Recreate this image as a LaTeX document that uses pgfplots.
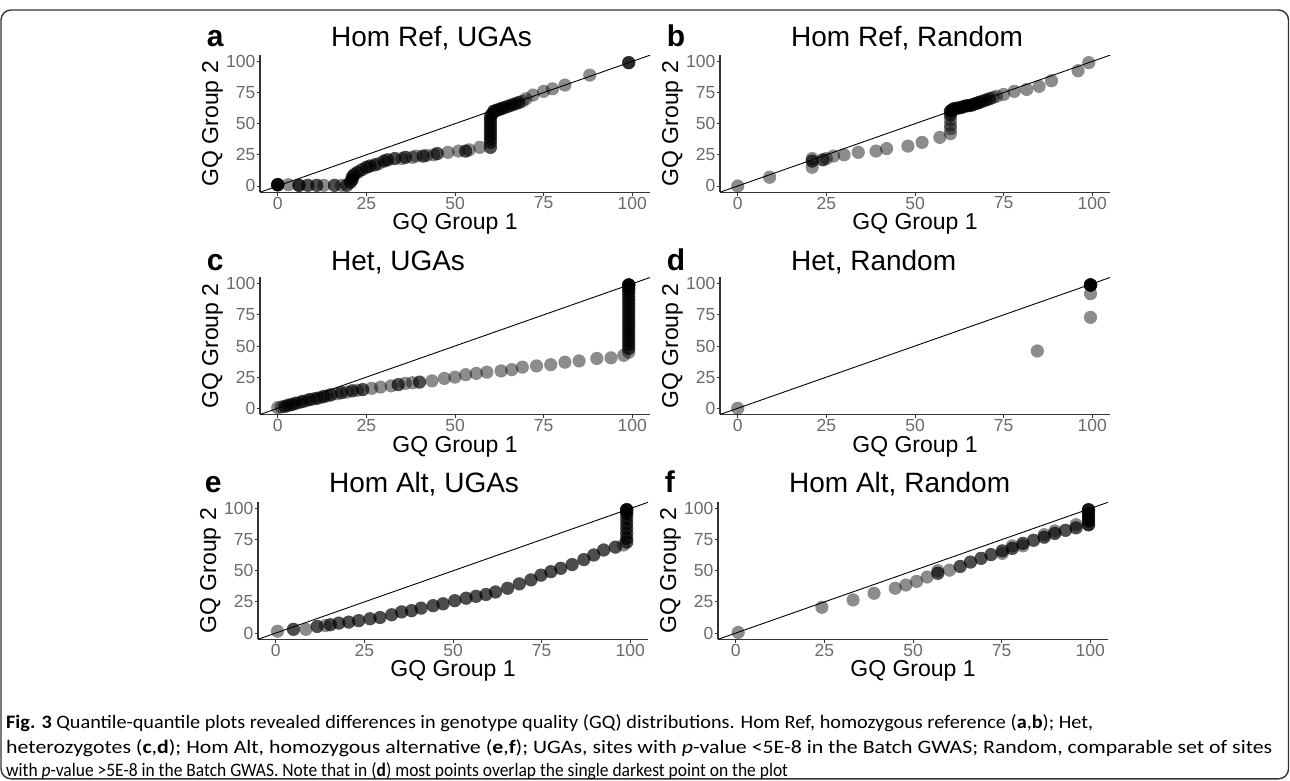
\documentclass[border=0pt]{standalone}
\usepackage{fontspec}
\setmainfont{Liberation Sans}
\newfontfamily\capfont{Carlito}
\usepackage{graphicx}
\usepackage{pgfplots}
\pgfplotsset{compat=1.18}
\definecolor{tickgray}{HTML}{6A6A6A}
\definecolor{axgray}{HTML}{333333}
\pgfplotsset{
  qq/.style={
    scale only axis, width=390pt, height=137pt,
    xmin=-5, xmax=105, ymin=-5, ymax=105,
    axis x line*=bottom, axis y line*=left,
    axis line style={-, axgray, line width=1.1pt},
    xtick={0,25,50,75,100}, ytick={0,25,50,75,100},
    xtick pos=bottom, ytick pos=left,
    tick align=outside, major tick length=3.5pt,
    every tick/.style={axgray, line width=0.9pt},
    tick label style={tickgray, font=\fontsize{17.5}{17.5}\selectfont, inner sep=1pt},
    /pgf/number format/assume math mode=true,
    xlabel={GQ Group 1}, ylabel={GQ Group 2},
    label style={font=\fontsize{23}{23}\selectfont, black},
    xlabel style={at={(axis description cs:0.5,-0.274)}, anchor=base},
    ylabel style={at={(axis description cs:-0.1077,0.5)}, anchor=base},
    clip mode=individual,
  },
  pts/.style={only marks, mark=*, mark size=6.6pt,
    mark options={fill=black, fill opacity=0.45, draw opacity=0}},
  diag/.style={black, line width=0.9pt, no marks},
}
\newcommand{\paneltitle}[3]{%
  \node[anchor=base west, inner sep=0, font=\fontsize{28}{28}\selectfont] at (axis description cs:0.182,#1) {#2};%
  \node[anchor=base west, inner sep=0, font=\fontsize{30}{30}\selectfont\bfseries] at (axis description cs:-0.137,#1) {#3};%
}
\begin{document}
\begin{tikzpicture}
\useasboundingbox (0pt,0pt) rectangle (1290pt,780pt);
\draw[axgray, line width=1.4pt, rounded corners=10pt] (1pt,1.2pt) rectangle (1288.5pt,770pt);

% ---------------- a ----------------
\begin{axis}[qq, at={(260pt,587.8pt)}, anchor=south west]
\addplot[diag] coordinates {(-5,-5) (105,105)};
\addplot[pts] table {
x y
0 1
0 1
0 1
0 1
0 1
0 1
3 1
6 0.5
6 0.5
6 0.5
8.5 0.5
8.5 0.5
11 0.5
11 0.5
13 0.5
16 0.5
16 0.5
18 0.5
19.5 0.5
19.5 0.5
20.5 3
20.5 3
21 5
21 5
21 7
21 7
21.5 9
21.5 9
22.5 11
22.5 11
23.7 13
23.7 13
25 15
25 15
26 16
26 16
27.5 17
27.5 17
28.5 18
30 20
30 20
31 21
31 21
33 22
33 22
35 22
36 23
36 23
38 23
39 24
41 24
41 24
42 24.5
44 25
45 26
45 26
48 27
51 28
53 28
53 28
54 29
57 31
60 31
60 31
60 35
60 35
60 38
60 38
60 41
60 41
60 44
60 44
60 47
60 47
60 50
60 50
60 53
60 53
60 56
60 56
60.5 58
60.5 58
61 60
61 60
61 60
62 61
62 61
62 61
63 62
63 62
63 62
64 63
64 63
65 64
65 64
66 65
66 65
67 66
67 66
68 67
68 67
69 68
70 70
72 73
75 76
77.5 78
81 81
88 89
99 99
99 99
99 99
};
\paneltitle{1.06}{Hom Ref, UGAs}{a}
\end{axis}

% ---------------- b ----------------
\begin{axis}[qq, at={(720pt,587.8pt)}, anchor=south west]
\addplot[diag] coordinates {(-5,-5) (105,105)};
\addplot[pts] table {
x y
0 0
9 7
21 15
21 20
21 20
21 22
24 21
24 21
25 22
27 24
30 25
34 27
39 28
42 30
48 32
52 35
57 39
60 42
60 46
60 49
60 53
60 57
60 57
60 60
60 60
60 60
60.5 61
60.5 61
60.5 61
61 62
61 62
61 62
62 62.5
62 62.5
62 62.5
63 63
63 63
63 63
64 64
64 64
64 64
65 64.5
65 64.5
65 64.5
66 65
66 65
66 65
67 66
67 66
67 66
68 67
68 67
68 67
69 68
69 68
70 69
70 69
71 70
71 70
72 71
73 72
75 73.5
78 76
81.5 77.5
85 80
88.5 84.5
96 92.5
99 99
};
\paneltitle{1.06}{Hom Ref, Random}{b}
\end{axis}

% ---------------- c ----------------
\begin{axis}[qq, at={(260pt,365.5pt)}, anchor=south west]
\addplot[diag] coordinates {(-5,-5) (105,105)};
\addplot[pts] table {
x y
0 0.5
1 1
2 1.5
2 1.5
3 2.5
3 2.5
4 3
4 3
5 4
5 4
6 4.5
7 5.5
7 5.5
8 6
9 7
9 7
10 7.5
11 8
11 8
12 8.5
13 9.5
13 9.5
14 10
15 10.8
15 10.8
16.7 11.7
18 12.5
18 12.5
19.5 13
21 14
21 14
22.5 14.5
24 15
24 15
26.5 16
29 17
32 18
34 19
34 19
36 20
38 20.5
40 21
40 21
43.5 22
47 24
50 25
53 27
56 28
59 29
63 30
66 31
69 33
73 34
77 35
81 37
85 38
90 40
94 40.5
97.6 42.5
99 45
99 48
99 48
99 51
99 51
99 54
99 54
99 57
99 57
99 60
99 60
99 63
99 63
99 66
99 66
99 69
99 69
99 72
99 72
99 75
99 75
99 78
99 78
99 81
99 81
99 84
99 84
99 87
99 87
99 90
99 90
99 93
99 93
99 96
99 96
99 96
99 99
99 99
99 99
99 99
99 99
99 99
};
\paneltitle{1.054}{Het, UGAs}{c}
\end{axis}

% ---------------- d ----------------
\begin{axis}[qq, at={(720pt,365.5pt)}, anchor=south west]
\addplot[diag] coordinates {(-5,-5) (105,105)};
\addplot[pts] table {
x y
0 0
84.5 46
99.5 73
99.5 92
99.5 99
99.5 99
99.5 99
99.5 99
99.5 99
99.5 99
99.5 99
99.5 99
};
\paneltitle{1.054}{Het, Random}{d}
\end{axis}

% ---------------- e ----------------
\begin{axis}[qq, at={(258pt,140.7pt)}, anchor=south west]
\addplot[diag] coordinates {(-5,-5) (105,105)};
\addplot[pts] table {
x y
0.5 1.5
5 3
5 3
8.5 3
11.7 5.3
11.7 5.3
14 6
15.4 6.7
15.4 6.7
17.8 8
17.8 8
20.6 8.8
20.6 8.8
23.4 10
23.4 10
26.6 11.5
26.6 11.5
29.4 12.5
29.4 12.5
32.7 14.7
32.7 14.7
35.5 17
35.5 17
38.3 18
38.3 18
41 20
41 20
44.4 22
44.4 22
47.2 23.5
47.2 23.5
50.5 26
50.5 26
53.7 28
53.7 28
56.5 29.5
56.5 29.5
59.3 31
59.3 31
62 33
62 33
65.4 36
65.4 36
68.7 39.5
68.7 39.5
72 42.7
72 42.7
74.8 46.5
74.8 46.5
77.6 49.3
77.6 49.3
80.4 52
80.4 52
83.6 55
83.6 55
86.9 59
86.9 59
89.7 62.7
89.7 62.7
92.5 66.7
92.5 66.7
95.8 69
95.8 69
98.1 70.7
99 73
99 73
99 76
99 76
99 80
99 80
99 84
99 84
99 88
99 88
99 92
99 92
99 96
99 96
99 96
99 99
99 99
99 99
99 99
99 99
};
\paneltitle{1.073}{Hom Alt, UGAs}{e}
\end{axis}

% ---------------- f ----------------
\begin{axis}[qq, at={(718pt,140.7pt)}, anchor=south west]
\addplot[diag] coordinates {(-5,-5) (105,105)};
\addplot[pts] table {
x y
0.7 0.5
24.3 20.7
33.1 26.6
39 32
45 36
48 38.6
51 41.5
54 45
57 48
57 48
57 50
60.3 50.5
63.3 53.5
63.3 53.5
66.2 57
66.2 57
69.2 60
69.2 60
72 63
72 63
75.2 66
75.2 66
75.2 64
78 68
78 68
78 70
81 72
81 72
81 70
84 74.5
84 74.5
87 77
87 77
87 79
90 80
90 80
90 82
93 82.5
93 82.5
96 84.5
96 84.5
96 87
99.5 87
99.5 87
99.5 87
99.5 90
99.5 90
99.5 90
99.5 93
99.5 93
99.5 93
99.5 96
99.5 96
99.5 96
99.5 99
99.5 99
99.5 99
99.5 99
};
\paneltitle{1.073}{Hom Alt, Random}{f}
\end{axis}

% ---------------- caption ----------------
\begin{scope}[every node/.style={anchor=base west, inner sep=0, font=\capfont\fontsize{19}{19}\selectfont}]
\node at (6pt,51.5pt) {\resizebox{1087pt}{\height}{\textbf{Fig. 3} Quantile-quantile plots revealed differences in genotype quality (GQ) distributions. Hom Ref, homozygous reference (\textbf{a},\textbf{b}); Het,}};
\node at (6pt,27pt) {\resizebox{1266pt}{\height}{heterozygotes (\textbf{c},\textbf{d}); Hom Alt, homozygous alternative (\textbf{e},\textbf{f}); UGAs, sites with \textit{p}-value <5E-8 in the Batch GWAS; Random, comparable set of sites}};
\node at (6pt,3.5pt) {\resizebox{782pt}{\height}{with \textit{p}-value >5E-8 in the Batch GWAS. Note that in (\textbf{d}) most points overlap the single darkest point on the plot}};
\end{scope}
\end{tikzpicture}
\end{document}
